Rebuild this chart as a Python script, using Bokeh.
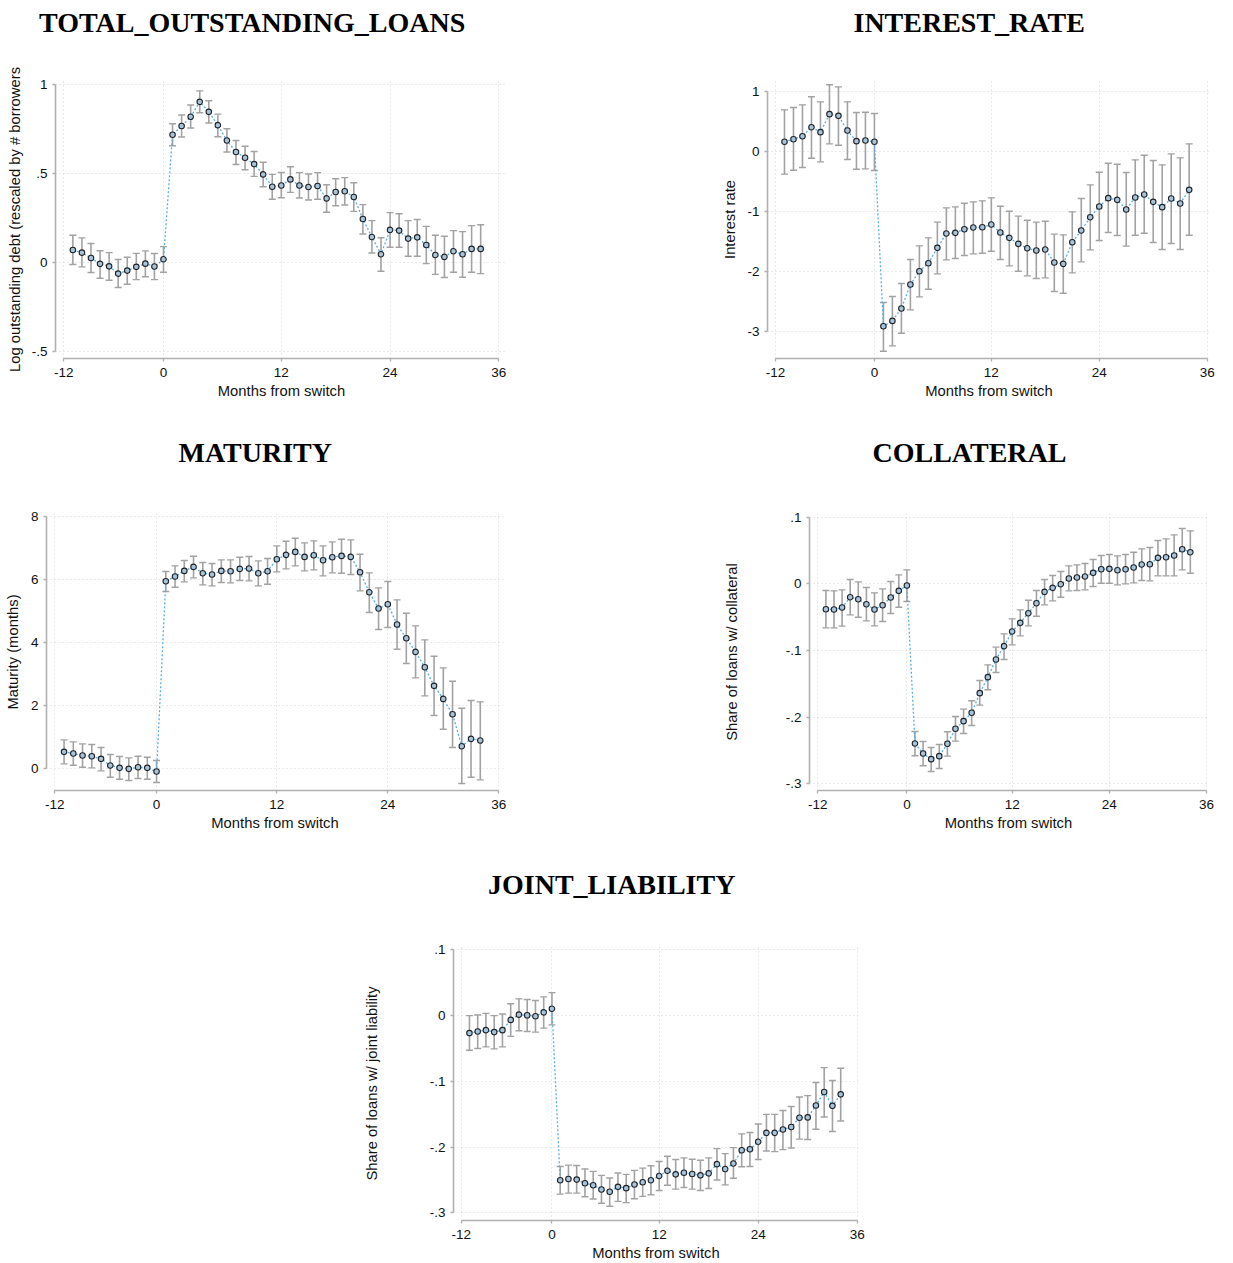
from bokeh.plotting import figure
from bokeh.models import (Range1d, FixedTicker, Title, Whisker, TeeHead, LinearAxis,
                          ColumnDataSource, Spacer)
from bokeh.layouts import row, column
from bokeh.embed import file_html
from bokeh.resources import INLINE

# ---------------- data ----------------
months = list(range(-11, 35))
x_ticks = [-12, -1, 12, 24, 36]
x_tick_labels = ["-12", "0", "12", "24", "36"]

loans_coef = [0.071, 0.056, 0.026, -0.007, -0.021, -0.062, -0.045, -0.024, -0.006, -0.022, 0.019,
              0.719, 0.768, 0.82, 0.904, 0.848, 0.773, 0.687, 0.622, 0.59, 0.554, 0.496, 0.427,
              0.434, 0.468, 0.434, 0.425, 0.431, 0.361, 0.397, 0.401, 0.369, 0.245, 0.144, 0.047,
              0.184, 0.18, 0.135, 0.142, 0.099, 0.043, 0.032, 0.064, 0.047, 0.077, 0.077]
loans_hi = [0.154, 0.139, 0.107, 0.067, 0.056, 0.017, 0.03, 0.052, 0.066, 0.051, 0.09,
            0.781, 0.83, 0.886, 0.966, 0.91, 0.835, 0.753, 0.687, 0.654, 0.625, 0.564, 0.496,
            0.507, 0.539, 0.506, 0.498, 0.506, 0.438, 0.472, 0.478, 0.449, 0.326, 0.236, 0.14,
            0.281, 0.275, 0.236, 0.242, 0.204, 0.154, 0.148, 0.18, 0.174, 0.208, 0.213]
loans_lo = [-0.011, -0.024, -0.056, -0.088, -0.099, -0.14, -0.122, -0.096, -0.08, -0.096, -0.054,
            0.657, 0.706, 0.757, 0.843, 0.785, 0.708, 0.622, 0.552, 0.522, 0.485, 0.427, 0.356,
            0.365, 0.395, 0.363, 0.352, 0.356, 0.283, 0.32, 0.324, 0.288, 0.161, 0.054, -0.049,
            0.086, 0.086, 0.036, 0.036, -0.006, -0.066, -0.084, -0.054, -0.082, -0.054, -0.062]

rate_coef = [0.156, 0.2, 0.25, 0.4, 0.317, 0.617, 0.589, 0.344, 0.167, 0.178, 0.156,
             -2.917, -2.828, -2.622, -2.222, -2.0, -1.867, -1.611, -1.372, -1.361, -1.3,
             -1.272, -1.267, -1.222, -1.356, -1.444, -1.544, -1.617, -1.656, -1.639, -1.856,
             -1.878, -1.517, -1.322, -1.1, -0.922, -0.783, -0.811, -0.972, -0.772, -0.722,
             -0.844, -0.933, -0.789, -0.872, -0.644]
rate_hi = [0.689, 0.728, 0.772, 0.906, 0.822, 1.106, 1.072, 0.822, 0.644, 0.65, 0.628,
           -2.522, -2.422, -2.206, -1.806, -1.578, -1.444, -1.183, -0.944, -0.928, -0.867,
           -0.844, -0.828, -0.778, -0.917, -1.0, -1.083, -1.15, -1.183, -1.167, -1.383,
           -1.394, -1.011, -0.789, -0.561, -0.35, -0.2, -0.217, -0.356, -0.144, -0.067,
           -0.156, -0.228, -0.044, -0.111, 0.122]
rate_lo = [-0.383, -0.317, -0.272, -0.117, -0.178, 0.122, 0.1, -0.139, -0.3, -0.294, -0.322,
           -3.333, -3.244, -3.033, -2.644, -2.428, -2.3, -2.044, -1.811, -1.789, -1.739,
           -1.711, -1.7, -1.667, -1.806, -1.911, -2.0, -2.078, -2.122, -2.111, -2.339,
           -2.367, -2.028, -1.844, -1.644, -1.489, -1.356, -1.406, -1.583, -1.4, -1.367,
           -1.522, -1.639, -1.539, -1.639, -1.4]

mat_coef = [0.519, 0.466, 0.403, 0.381, 0.297, 0.085, 0.011, -0.021, 0.032, 0.011, -0.106,
            5.943, 6.091, 6.271, 6.398, 6.197, 6.155, 6.271, 6.261, 6.335, 6.345,
            6.197, 6.261, 6.642, 6.78, 6.875, 6.716, 6.769, 6.61, 6.706, 6.748,
            6.716, 6.229, 5.593, 5.074, 5.212, 4.566, 4.131, 3.697, 3.21, 2.617,
            2.203, 1.716, 0.699, 0.932, 0.879]
mat_hi = [0.9, 0.837, 0.773, 0.752, 0.657, 0.434, 0.371, 0.328, 0.381, 0.35, 0.244,
          6.25, 6.43, 6.6, 6.737, 6.536, 6.504, 6.621, 6.621, 6.706, 6.727,
          6.589, 6.663, 7.066, 7.214, 7.309, 7.161, 7.225, 7.066, 7.193, 7.278,
          7.256, 6.801, 6.208, 5.731, 5.932, 5.35, 4.926, 4.523, 4.078, 3.559,
          3.189, 2.765, 1.907, 2.15, 2.108]
mat_lo = [0.138, 0.095, 0.032, 0.011, -0.085, -0.286, -0.35, -0.392, -0.328, -0.35, -0.456,
          5.614, 5.752, 5.922, 6.05, 5.826, 5.794, 5.9, 5.89, 5.964, 5.953,
          5.794, 5.847, 6.239, 6.335, 6.43, 6.271, 6.303, 6.112, 6.208, 6.197,
          6.155, 5.636, 4.947, 4.407, 4.47, 3.782, 3.326, 2.871, 2.299, 1.674,
          1.239, 0.657, -0.487, -0.286, -0.371]

coll_coef = [-0.038, -0.0385, -0.0355, -0.02, -0.023, -0.0305, -0.0385, -0.032, -0.0205, -0.0105, -0.0025,
             -0.2395, -0.2545, -0.263, -0.2585, -0.24, -0.2175, -0.206, -0.1935, -0.164, -0.14,
             -0.1135, -0.0935, -0.0715, -0.0585, -0.044, -0.029, -0.012, -0.006, -0.0005, 0.008,
             0.0095, 0.011, 0.0165, 0.022, 0.0225, 0.0205, 0.022, 0.0245, 0.029, 0.0295,
             0.039, 0.04, 0.0425, 0.052, 0.0475]
coll_hi = [-0.01, -0.0105, -0.009, 0.0065, 0.003, -0.0055, -0.0135, -0.0075, 0.0035, 0.0135, 0.021,
           -0.2215, -0.2365, -0.2455, -0.241, -0.222, -0.199, -0.188, -0.1755, -0.145, -0.1215,
           -0.095, -0.075, -0.0525, -0.039, -0.0245, -0.01, 0.0065, 0.0125, 0.0185, 0.027,
           0.0285, 0.0305, 0.0365, 0.0425, 0.044, 0.042, 0.044, 0.0475, 0.0525, 0.0545,
           0.065, 0.0675, 0.0735, 0.083, 0.0795]
coll_lo = [-0.066, -0.066, -0.0635, -0.0465, -0.05, -0.0555, -0.063, -0.0565, -0.0445, -0.035, -0.0265,
           -0.258, -0.273, -0.2815, -0.277, -0.2585, -0.236, -0.2245, -0.2125, -0.182, -0.159,
           -0.133, -0.1135, -0.0915, -0.078, -0.063, -0.0485, -0.0315, -0.0255, -0.02, -0.0105,
           -0.01, -0.009, -0.004, 0.001, 0.001, -0.0015, 0.0, 0.0015, 0.005, 0.0045,
           0.012, 0.012, 0.012, 0.021, 0.016]

joint_coef = [-0.027, -0.0245, -0.0225, -0.0255, -0.0225, -0.007, 0.001, 0.0, -0.0015, 0.0045, 0.01,
              -0.2505, -0.2485, -0.2495, -0.255, -0.258, -0.2645, -0.268, -0.2605, -0.2625, -0.257,
              -0.2535, -0.2505, -0.244, -0.236, -0.2415, -0.239, -0.241, -0.243, -0.24, -0.226,
              -0.2335, -0.225, -0.205, -0.2035, -0.192, -0.1785, -0.1785, -0.1735, -0.1695, -0.1555,
              -0.155, -0.137, -0.1165, -0.1375, -0.12]
joint_hi = [-0.0005, 0.0005, 0.003, -0.0005, 0.002, 0.0175, 0.025, 0.024, 0.0225, 0.028, 0.0345,
            -0.2295, -0.2275, -0.228, -0.2335, -0.237, -0.243, -0.247, -0.2395, -0.2415, -0.2355,
            -0.232, -0.2285, -0.222, -0.214, -0.219, -0.2165, -0.2185, -0.22, -0.2165, -0.2025,
            -0.21, -0.201, -0.18, -0.178, -0.165, -0.1505, -0.1505, -0.1445, -0.1385, -0.124,
            -0.122, -0.102, -0.0795, -0.099, -0.0805]
joint_lo = [-0.053, -0.0505, -0.048, -0.051, -0.048, -0.032, -0.0235, -0.0245, -0.0255, -0.0195, -0.0145,
            -0.2715, -0.27, -0.27, -0.2755, -0.279, -0.2855, -0.29, -0.2825, -0.2845, -0.2785,
            -0.275, -0.2725, -0.266, -0.258, -0.264, -0.2615, -0.264, -0.266, -0.263, -0.25,
            -0.2575, -0.2475, -0.23, -0.2295, -0.219, -0.206, -0.207, -0.204, -0.2015, -0.188,
            -0.1885, -0.173, -0.1545, -0.1765, -0.1605]

y_ticks_loans = [-0.5, 0, 0.5, 1]
y_labels_loans = ["-.5", "0", ".5", "1"]
y_ticks_rate = [-3, -2, -1, 0, 1]
y_labels_rate = ["-3", "-2", "-1", "0", "1"]
y_ticks_mat = [0, 2, 4, 6, 8]
y_labels_mat = ["0", "2", "4", "6", "8"]
y_ticks_share = [-0.3, -0.2, -0.1, 0, 0.1]
y_labels_share = ["-.3", "-.2", "-.1", "0", ".1"]

# ---------------- style ----------------
SANS = "Liberation Sans"
SERIF = "Liberation Serif"
AXIS_C = "#b0b0b0"
GRID_C = "#d4d4d4"
BAR_C = "#a2a2a2"
LINE_C = "#5aaee3"
PT_LINE = "#1f2328"
PT_FILL = "#a9c3d9"


def panel(title, ylabel, coef, lo, hi, yticks, ylabels, ybounds, xr, yr,
          w, h, bl, br, bt, bb, title_off, title_gap, ylab_standoff):
    p = figure(width=w, height=h, x_range=Range1d(*xr), y_range=Range1d(*yr),
               output_backend="svg", toolbar_location=None, title=None,
               min_border_left=bl, min_border_right=br,
               min_border_top=bt, min_border_bottom=bb,
               outline_line_color=None, background_fill_color="white",
               border_fill_color="white")

    xt = FixedTicker(ticks=x_ticks)
    yt = FixedTicker(ticks=yticks)
    p.xaxis.ticker = xt
    p.yaxis.ticker = yt
    p.xgrid.ticker = xt
    p.ygrid.ticker = yt
    p.xaxis.major_label_overrides = dict(zip(x_ticks, x_tick_labels))
    p.yaxis.major_label_overrides = dict(zip(yticks, ylabels))
    p.xaxis.bounds = (-12, 36)
    p.yaxis.bounds = ybounds

    for ax in (p.xaxis, p.yaxis):
        ax.axis_line_color = AXIS_C
        ax.axis_line_width = 1.6
        ax.major_tick_line_color = AXIS_C
        ax.major_tick_line_width = 1.3
        ax.major_tick_in = 0
        ax.major_tick_out = 3
        ax.minor_tick_in = 0
        ax.minor_tick_out = 0
        ax.major_label_text_font = SANS
        ax.major_label_text_font_size = "13.5px"
        ax.major_label_text_color = "#111111"
        ax.major_label_standoff = 5
        ax.axis_label_text_font = SANS
        ax.axis_label_text_font_size = "14.8px"
        ax.axis_label_text_font_style = "normal"
        ax.axis_label_text_color = "#111111"

    p.xaxis.major_label_standoff = 6
    p.xaxis.axis_label = "Months from switch"
    p.xaxis.axis_label_standoff = 3
    p.yaxis.axis_label = ylabel
    p.yaxis.axis_label_standoff = ylab_standoff

    for g in (p.xgrid, p.ygrid):
        g.grid_line_color = GRID_C
        g.grid_line_dash = "1 3"
        g.grid_line_width = 1

    src = ColumnDataSource(dict(x=months, y=coef, lo=lo, hi=hi))
    wk = Whisker(source=src, base="x", upper="hi", lower="lo",
                 line_color=BAR_C, line_width=1.6,
                 upper_head=TeeHead(size=7, line_color=BAR_C, line_width=1.4),
                 lower_head=TeeHead(size=7, line_color=BAR_C, line_width=1.4))
    p.add_layout(wk)
    p.line("x", "y", source=src, line_color=LINE_C, line_dash="2 2", line_width=1.3)
    p.scatter("x", "y", source=src, marker="circle", size=5.5,
              fill_color=PT_FILL, line_color=PT_LINE, line_width=1.1)

    # blank spacer (one invisible tick) between the plot frame and the panel title
    gap = LinearAxis(ticker=FixedTicker(ticks=[12]), axis_line_color=None,
                     major_tick_out=title_gap, major_tick_in=0,
                     major_tick_line_color="white", major_tick_line_width=0.5,
                     minor_tick_out=0, minor_tick_in=0,
                     major_label_overrides={12: ""},
                     major_label_text_font_size="1px",
                     major_label_standoff=0, axis_label_standoff=0)
    p.add_layout(gap, "above")
    p.add_layout(Title(text=title, align="left", offset=title_off,
                       vertical_align="bottom", standoff=0,
                       text_font=SERIF, text_font_style="bold",
                       text_font_size="28px", text_color="black"), "above")
    return p


f1 = panel("TOTAL_OUTSTANDING_LOANS", "Log outstanding debt (rescaled by # borrowers",
           loans_coef, loans_lo, loans_hi, y_ticks_loans, y_labels_loans, (-0.5, 1),
           (-12.916, 36.96), (-0.5394, 1.0242),
           620, 428, 55, 113, 80, 70, -16.5, 43, 6)
f2 = panel("INTEREST_RATE", "Interest rate",
           rate_coef, rate_lo, rate_hi, y_ticks_rate, y_labels_rate, (-3, 1),
           (-12.889, 36.37), (-3.455, 1.178),
           612, 428, 147, 22, 80, 70, 86, 43, 6)
f3 = panel("MATURITY", "Maturity (months)",
           mat_coef, mat_lo, mat_hi, y_ticks_mat, y_labels_mat, (0, 8),
           (-12.897, 36.508), (-0.7088, 8.095),
           620, 432, 46, 117, 85, 70, 132, 46, 7)
f4 = panel("COLLATERAL", "Share of loans w/ collateral",
           coll_coef, coll_lo, coll_hi, y_ticks_share, y_labels_share, (-0.3, 0.1),
           (-13.025, 36.12), (-0.31005, 0.10555),
           612, 432, 189, 25, 85, 70, 63, 46, 43)
f5 = panel("JOINT_LIABILITY", "Share of loans w/ joint liability",
           joint_coef, joint_lo, joint_hi, y_ticks_share, y_labels_share, (-0.3, 0.1),
           (-12.933, 36.158), (-0.3116, 0.1045),
           600, 403, 153, 42, 86, 40, 34.5, 47, 47)

layout = column(row(f1, f2), row(f3, f4), row(Spacer(width=300, height=403), f5))

with open("out.html", "w") as fh:
    fh.write(file_html(layout, INLINE))
